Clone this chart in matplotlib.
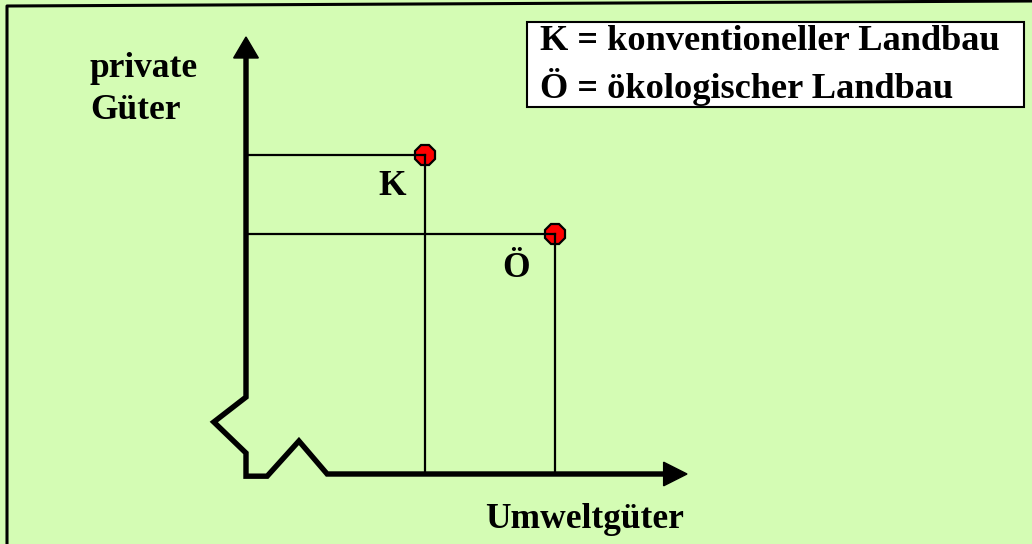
import matplotlib
matplotlib.use("Agg")
import matplotlib.pyplot as plt
from matplotlib.patches import Polygon, Rectangle
from matplotlib.lines import Line2D

# Data (conceptual units, axes run 0..10)
labels = ["K", "Ö"]
umweltgueter = [4.06, 7.0]      # x values
private_gueter = [7.3, 5.5]     # y values
legend_lines = ["K = konventioneller Landbau", "Ö = ökologischer Landbau"]
x_label = "Umweltgüter"
y_label_lines = ["private", "Güter"]

W, H = 1032, 544
BG = "#d4fcb4"
FONT = "Liberation Serif"
FS = 25.5
FS_LEG = 26.2

fig = plt.figure(figsize=(W / 100, H / 100), dpi=100, facecolor=BG)

def fx(x):
    return x / W

def fy(y):
    return 1 - y / H

# axes: data (0,0) at px (246,474), (10,10) at px (687,37)
ax = fig.add_axes([fx(246), fy(474), (687 - 246) / W, (474 - 37) / H])
ax.set_xlim(0, 10)
ax.set_ylim(0, 10)
ax.axis("off")
ax.patch.set_alpha(0)

# main axis polyline with break zigzags
path_x = [0, 0, -0.73, 0, 0, 0.48, 1.2, 1.84, 9.46]
path_y = [9.54, 1.76, 1.19, 0.48, -0.05, -0.05, 0.755, 0, 0]
ax.plot(path_x, path_y, color="black", lw=3.9, solid_joinstyle="miter",
        solid_capstyle="butt", clip_on=False, zorder=3)
# arrow heads
ax.add_patch(Polygon([[0, 10], [-0.28, 9.52], [0.28, 9.52]], closed=True,
                     color="black", clip_on=False, zorder=3))
ax.add_patch(Polygon([[10, 0], [9.47, 0.27], [9.47, -0.27]], closed=True,
                     color="black", clip_on=False, zorder=3))

# guide lines and points
for lab, xv, yv in zip(labels, umweltgueter, private_gueter):
    ax.plot([0, xv], [yv, yv], color="black", lw=1.6, zorder=4, clip_on=False)
    ax.plot([xv, xv], [0, yv], color="black", lw=1.6, zorder=4, clip_on=False)
    ax.plot([xv], [yv], marker="8", markersize=15.5, markerfacecolor="#ff0000",
            markeredgecolor="black", markeredgewidth=1.6, zorder=3.5,
            clip_on=False)

ax.annotate(labels[0], (umweltgueter[0], private_gueter[0]),
            xytext=(-47, -40), textcoords="offset pixels",
            ha="left", va="baseline", fontsize=FS, fontweight="bold",
            family=FONT)
ax.annotate(labels[1], (umweltgueter[1], private_gueter[1]),
            xytext=(-52, -43), textcoords="offset pixels",
            ha="left", va="baseline", fontsize=FS, fontweight="bold",
            family=FONT)

# axis labels
fig.text(fx(90), fy(77), y_label_lines[0], ha="left", va="baseline",
         fontsize=FS, fontweight="bold", family=FONT)
fig.text(fx(90), fy(119), y_label_lines[1], ha="left", va="baseline",
         fontsize=FS, fontweight="bold", family=FONT)
fig.text(fx(485), fy(528), x_label, ha="left", va="baseline",
         fontsize=FS, fontweight="bold", family=FONT)

# legend box
fig.patches.append(Rectangle((fx(527), fy(107)), (1024 - 527) / W,
                             (107 - 22) / H, transform=fig.transFigure,
                             facecolor="white", edgecolor="black", lw=1.5,
                             zorder=1))
fig.text(fx(540), fy(50), legend_lines[0], ha="left", va="baseline",
         fontsize=FS_LEG, fontweight="bold", family=FONT, zorder=2)
fig.text(fx(540), fy(98), legend_lines[1], ha="left", va="baseline",
         fontsize=FS_LEG, fontweight="bold", family=FONT, zorder=2)

# outer frame (left and top)
fig.lines.append(Line2D([fx(7), fx(7), fx(1032)], [fy(544), fy(6), fy(1)],
                        transform=fig.transFigure, color="black", lw=2.2))

fig.savefig("out.png", dpi=100, facecolor=BG)
